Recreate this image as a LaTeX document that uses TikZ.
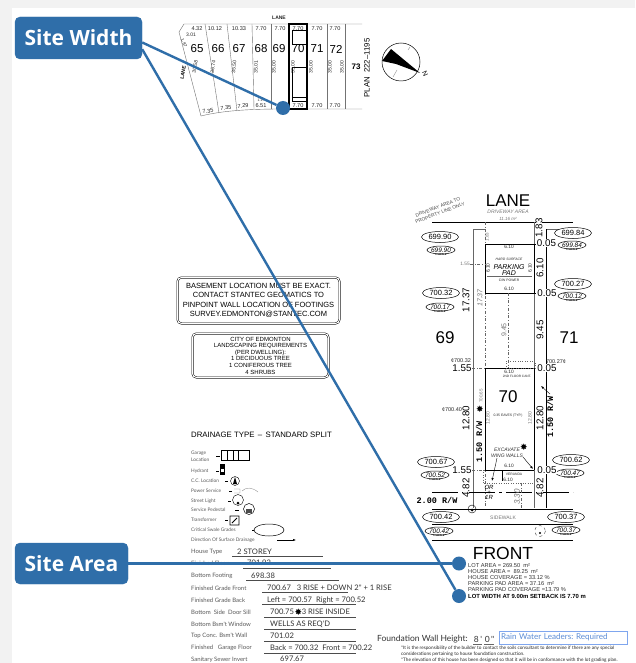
\documentclass[tikz,border=0pt]{standalone}
\usepackage{fontspec}
\setmainfont{Liberation Sans}
\newfontfamily\callfont{Open Sans}
\newfontfamily\tablefont{Lato}
\newfontfamily\starfont{DejaVu Sans}
\setmonofont{Liberation Mono}
\usetikzlibrary{shapes.geometric,arrows.meta}
\definecolor{calloutblue}{HTML}{2F6EA9}
\definecolor{pagegrey}{HTML}{F2F2F2}
\definecolor{leaderblue}{HTML}{7FA6EE}
\definecolor{leadertext}{HTML}{5C8DD6}
\definecolor{dimgrey}{HTML}{777777}
\tikzset{
  sz/.style={font=\fontsize{#1}{#1}\selectfont},
  callout/.style={fill=calloutblue,draw=calloutblue,rounded corners=5pt,text=white,inner sep=0pt,
    font=\callfont\bfseries\fontsize{21}{21}\selectfont},
  calldot/.style={circle,fill=calloutblue,minimum size=14pt,inner sep=0pt},
  leader/.style={draw=calloutblue,line width=2.4pt},
  lotline/.style={draw=black!55,line width=.4pt},
  dimtext/.style={text=dimgrey,inner sep=0pt},
  cadtext/.style={inner sep=0pt,text=black!85},
  bigdim/.style={inner sep=0pt,sz=9.8},
  grade/.style={ellipse,draw,line width=.5pt,minimum width=37pt,minimum height=11pt,inner sep=0pt,sz=7.5},
  gradesmall/.style={ellipse,draw,line width=.5pt,minimum width=28pt,minimum height=8pt,inner sep=0pt,
    font=\itshape\fontsize{6.5}{6.5}\selectfont},
  swale/.style={inner sep=0pt,font=\fontsize{2.6}{3}\selectfont\bfseries},
  roadwidth/.style={inner sep=0pt,font=\ttfamily\bfseries\fontsize{8.5}{8.5}\selectfont},
  signbox/.style={draw,double,double distance=1pt,line width=.5pt,rounded corners=4pt},
  rowlabel/.style={anchor=west,inner sep=0pt,text=black!65,font=\tablefont\fontsize{6}{6}\selectfont},
  rowvalue/.style={anchor=west,inner sep=0pt,text=black!80,font=\tablefont\fontsize{7.6}{8}\selectfont},
  legendlabel/.style={anchor=west,inner sep=0pt,text=black!65,font=\tablefont\fontsize{4.8}{5}\selectfont},
  areatext/.style={anchor=west,inner sep=0pt,font=\fontsize{5.7}{6}\selectfont},
  treestar/.style={inner sep=0pt,font=\starfont\fontsize{9}{9}\selectfont},
}
\begin{document}
\begin{tikzpicture}[x=1pt,y=-1pt]
  \useasboundingbox (0,0) rectangle (635,663);
  \fill [pagegrey] (0,0) rectangle (635,663);
  \fill [white] (12,8) rectangle (635,663);

  % key plan
  \node (keylane) [cadtext,font=\bfseries\fontsize{5}{5}\selectfont] at (279,18) {LANE};
  \draw [lotline] (362,24) -- (184,24) -- (179,32) -- (201,116);
  \draw [lotline] (201,116) .. controls (225,110) and (255,109) .. (283,109) -- (362,109);
  \draw [lotline] (205,24) -- (219,113);
  \draw [lotline] (227,24) -- (237,111);
  \draw [lotline] (252,24) -- (254,109);
  \foreach \x in {271,327,345} \draw [lotline] (\x,24) -- (\x,109);
  \draw [line width=1.1pt] (289,24) rectangle (307,109);
  \draw [line width=.7pt] (292,30) rectangle (307,44);
  \draw [line width=.7pt] (292,67) rectangle (307,97);
  \draw [line width=.5pt] (292,97) -- (292,101) -- (307,101);
  \foreach \x/\t in {197/4.32,215/10.12,239/10.33,261/7.70,280/7.70,298/7.70,317/7.70,335/7.70}
    \node [cadtext,sz=5.6] at (\x,28.5) {\t};
  \foreach \x/\t in {197/65,218/66,239/67,261/68,279/69,298/70,317/71,336/72}
    \node [inner sep=0pt,sz=11.5] at (\x,49) {\t};
  \foreach \x/\t/\r in {195/30.58/80,213/36.74/82,234/35.50/84,256/35.01/88,274/35.00/90,293/35.00/90,311/35.00/90,330/35.00/90,342/35.00/90}
    \node [cadtext,sz=5,rotate=\r] at (\x,67) {\t};
  \foreach \x/\y/\t/\r in {208/111/7.35/10,226/108/7.35/5,243/106/7.29/2,261/105.5/6.51/0,298/105.5/7.70/0,317/105.5/7.70/0,335/105.5/7.70/0}
    \node [cadtext,sz=5.6,rotate=\r] at (\x,\y) {\t};
  \node [cadtext,sz=3.5] at (261,100) {1.17};
  \node [cadtext,sz=5] at (191,34.5) {3.01};
  \node [cadtext,sz=4.5,rotate=-65] at (184,43) {1.87};
  \node [inner sep=0pt,font=\bfseries\fontsize{5}{5}\selectfont,rotate=80] at (183,73) {LANE};
  \node [inner sep=0pt,font=\bfseries\fontsize{8}{8}\selectfont] at (356,67) {73};
  \node [inner sep=0pt,sz=7.8,rotate=90] at (367,68) {PLAN\ \ 222--1195};

  % north arrow
  \draw [line width=.5pt] (401,62) circle (19);
  \fill (382,61) -- (391,49) -- (420,73) -- (396,64) -- cycle;
  \draw [black!50,line width=.3pt] (408,50) -- (410,47) (393,77) -- (397,70);
  \node [inner sep=0pt,sz=7,rotate=-65] at (425,74) {N};

  % signs
  \node (surveysign) [signbox,minimum width=162pt,minimum height=46pt,align=center,inner sep=0pt,
    font=\fontsize{7.5}{9.4}\selectfont] at (258.5,300.5)
    {BASEMENT LOCATION MUST BE EXACT.\\CONTACT STANTEC GEOMATICS TO\\PINPOINT WALL LOCATION OF FOOTINGS\\SURVEY.EDMONTON@STANTEC.COM};
  \node (treesign) [signbox,minimum width=136pt,minimum height=44pt,align=center,inner sep=0pt,
    font=\fontsize{6}{6.6}\selectfont] at (260.5,355.5)
    {CITY OF EDMONTON\\LANDSCAPING REQUIREMENTS\\(PER DWELLING):\\1 DECIDUOUS TREE\\1 CONIFEROUS TREE\\4 SHRUBS};

  % drainage legend
  \node (drainage) [anchor=west,inner sep=0pt,sz=7.8] at (191,435) {DRAINAGE TYPE \,--\, STANDARD SPLIT};
  \node [legendlabel,align=left] at (191,456.5) {Garage\\[1.5pt]Location};
  \foreach \y/\t in {471/Hydrant,481/C.C. Location,491/Power Service,501/Street Light,510/Service Pedestal,520/Transformer,530/Critical Swale Grades,540/Direction Of Surface Drainage}
    \node [legendlabel] at (191,\y) {\t};
  \draw [line width=.7pt] (221,450) rectangle (249,460) (227,450) -- (227,460) (233,450) -- (233,460) (238,450) -- (238,460);
  \draw [line width=.4pt] (216,456) -- (220,456) (216,471) -- (219,471) (225,481) -- (228,481) (229,491) -- (232,491)
    (228,501) -- (231,501) (235,510) -- (239,510) (225,520) -- (228,520) (252,530) -- (254,530);
  \fill (220,464) rectangle (225,475);
  \fill [white] (221,469) rectangle (224,472);
  \draw [line width=.4pt] (235,481) circle (4.5);
  \fill (235,477) -- (233,484) -- (237,484) -- cycle;
  \draw [black!50,line width=.3pt] (234,489) -- (240,489) -- (240,493) -- (234,493) (242,491) .. controls (246,487) and (252,487) .. (258,492);
  \draw [line width=.4pt] (238,500) circle (5.5);
  \fill (238,503) circle (1.5);
  \draw [line width=.5pt] (249,509) circle (5.5);
  \fill [black!70] (246,509) rectangle (252,513);
  \draw [line width=.8pt] (230,516) rectangle (239,525) (232,523) -- (237,518);
  \draw [line width=.5pt] (269,530) ellipse (15 and 6);
  \draw [-{Latex[length=3pt]},line width=.4pt] (277,540) -- (296,540);

  % grade table
  \foreach \y/\t in {552/House Type,563/Finished Floor,576/Bottom Footing,588/Finished Grade Front,600/Finished Grade Back,612/Bottom\ \ Side\ \ Door Sill,624/Bottom Bsm't Window,636/Top Conc. Bsm't Wall,648/Finished\ \ \ Garage Floor,659.5/Sanitary Sewer Invert}
    \node [rowlabel] at (191,\y) {\t};
  \foreach \x/\y/\t in {237/552/2 STOREY,247/563/701.92,251/576/698.38,267/588/{700.67\ \ \ 3 RISE + DOWN 2" + 1 RISE},267/600/{Left = 700.57\ \ Right = 700.52},270/612/{700.75 \ \ \ 3 RISE INSIDE},270/624/WELLS AS REQ'D,270/636/701.02,270/648/{Back = 700.32\ \ Front = 700.22},280/659/697.67}
    \node [rowvalue] at (\x,\y) {\t};
  \foreach \a/\b/\y in {232/323/556,243/331/568,246/339/580,262/348/592,262/356/604,264/356/617,264/356/629,264/356/641,264/356/653}
    \draw [black!70,line width=.5pt] (\a,\y) -- (\b,\y);
  \node (sillstar) [treestar] at (298.5,612) {✸};

  % site plan
  \node (lanetitle) [inner sep=0pt,font=\fontsize{17}{17}\selectfont] at (508,201) {LANE};
  \node [dimtext,font=\itshape\fontsize{5}{5}\selectfont] at (508,212) {DRIVEWAY AREA};
  \node [dimtext,font=\itshape\fontsize{4.5}{5}\selectfont] at (508,218.5) {11.16 m²};
  \node [cadtext,text=black!70,rotate=21,align=center,font=\fontsize{4.8}{6}\selectfont] at (439,210) {DRIVEWAY AREA TO\\PROPERTY LINE ONLY};
  \draw [line width=.5pt] (432,222) -- (573,222);
  \draw [black!60,line width=.4pt] (473,229) -- (485,229) (546,229) -- (573,229);
  \draw [black!60,line width=.4pt] (473,229) -- (473,508);
  \draw [line width=.5pt] (546,229) -- (546,508);
  \draw [black!60,line width=.5pt] (534,222) -- (534,508);
  \draw [black!60,line width=.4pt,dash dot] (485,222) -- (485,508);
  \draw [line width=.9pt] (485,244) rectangle (534,293);
  \draw [line width=.9pt] (485,368) rectangle (534,470);
  \draw [black!60,dotted,line width=.4pt] (506,361) rectangle (535,368);
  \draw [black!60,dotted,line width=.4pt] (483,470) -- (483,483) -- (534,483) -- (534,470);
  \draw [line width=.8pt] (502,470) -- (502,481);
  \draw [black!60,line width=.3pt] (487,276) -- (532,276);
  \draw [black!60,line width=.4pt,dash dot] (508,293) -- (508,368);
  \draw [black!60,line width=.4pt,dash dot] (470,264) -- (485,264) (472,368) -- (485,368) (472,470) -- (485,470);
  \draw [line width=.5pt] (534,293) -- (536,293) (534,244) -- (536,244);
  \draw [line width=.5pt,dash pattern=on 26pt off 4pt on 3pt off 4pt] (432,492) -- (573,492);
  \foreach \y in {509,524,540} \draw [line width=.6pt] (432,\y) -- (573,\y);
  \node [dimtext,sz=5] at (503,518) {SIDEWALK};

  % grades
  \foreach \x/\y/\t in {440/237/699.90,573/233/699.84,441/293/700.32,573/284/700.27,436/462/700.67,571/460/700.62,441/517/700.42,566/517/700.37}
    \node [grade,fill=white] at (\x,\y) {\t};
  \foreach \x/\y/\t in {441/250/699.90,572/245/699.84,440/307/700.17,572/296/700.12,435/475/700.52,570/473/700.47,439/531/700.42,566/530/700.37}
  {
    \node [gradesmall,fill=white] at (\x,\y) {\t};
    \node [swale] at (\x,\y+4.5) {¢ SWALE};
  }

  % dimensions
  \foreach \x/\y/\t in {466/300/17.37,540/268/6.10,540/330/9.45,466/418/12.80,540/418/12.80,466/488/4.82,540/488/4.82,539/228/1.83}
    \node [bigdim,fill=white,rotate=90] at (\x,\y) {\t};
  \foreach \x/\y/\t in {546.5/243/0.05,547/293/0.05,547/368/0.05,547/470/0.05,462/368/1.55,462/470/1.55}
    \node [bigdim,fill=white,inner sep=.5pt] at (\x,\y) {\t};
  \node [dimtext,rotate=90,font=\itshape\fontsize{7}{7}\selectfont] at (480,298) {17.37};
  \node [dimtext,rotate=90,sz=7] at (504,330) {9.45};
  \node [dimtext,rotate=90,sz=4.5] at (487,237) {1.83};
  \node [dimtext,sz=4.8] at (465,264) {1.55};
  \foreach \x/\y in {509/247,509/289,509/372,509/466,508/480}
    \node [cadtext,sz=4.8] at (\x,\y) {6.10};
  \foreach \x in {488,530} {
    \node [cadtext,sz=4.8,rotate=90] at (\x,268) {6.10};
    \node [dimtext,sz=5,rotate=90] at (\x,418) {12.80};
  }
  \node [cadtext,font=\itshape\fontsize{3.4}{4}\selectfont] at (509,259) {HARD SURFACE};
  \node [inner sep=0pt,align=center,font=\itshape\fontsize{7}{6.8}\selectfont] at (509,270) {PARKING\\PAD};
  \node [cadtext,sz=3.4] at (509,280) {C/W POWER};
  \node [cadtext,sz=3.2] at (517,376) {2ND FLOOR CANT.};
  \node [cadtext,sz=3.4] at (508,416) {0.35 EAVES (TYP.)};
  \node [cadtext,sz=3.4] at (514,474) {VERANDA};
  \node [dimtext,rotate=90,sz=4.5] at (481,396) {700.65};
  \node [inner sep=0pt,font=\itshape\fontsize{6}{6}\selectfont,align=center] at (489,492) {OR\\[-1pt]+\\[-1pt]1R};
  \node [dimtext,rotate=90,font=\itshape\fontsize{8}{8}\selectfont] at (517,497) {3.30};
  \draw [black!60,line width=.4pt,dash dot] (521,483) -- (521,509);
  \node [inner sep=0pt,font=\fontsize{17}{17}\selectfont] at (445,338) {69};
  \node [inner sep=0pt,font=\fontsize{17}{17}\selectfont] at (569,338) {71};
  \node [inner sep=0pt,font=\fontsize{17}{17}\selectfont] at (508,397) {70};
  \node [cadtext,sz=5.5] at (461,361) {¢700.32};
  \node [cadtext,sz=5.5] at (556,362) {700.27¢};
  \node [cadtext,sz=5.5] at (452,410) {¢700.40};
  \node [roadwidth,rotate=90] at (479,442) {1.50 R/W};
  \node [roadwidth,rotate=90] at (550,417) {1.50 R/W};
  \node (rowleft) [roadwidth] at (437,500) {2.00 R/W};
  \node (excavate) [inner sep=0pt,align=center,text=black!80,font=\itshape\fontsize{5}{6}\selectfont] at (507,453) {EXCAVATE\\WING WALLS};
  \draw [-{Latex[length=3pt]},line width=.4pt] (523,457) -- (533,469);
  \draw [-{Latex[length=3pt]},line width=.4pt] (497,458) -- (492,481);
  \draw [-{Latex[length=3pt]},line width=.4pt] (550,394) -- (541,386);
  \node (starone) [treestar] at (480,409) {✸};
  \node (startwo) [treestar] at (524,447) {✸};
  \draw [line width=.4pt] (472,509) circle (4);
  \fill (472,510) circle (1.5);
  \draw [black!70,line width=.4pt,dashed] (540,531) circle (5.5);
  \fill (540,533) circle (1.2);

  % areas
  \node (fronttitle) [inner sep=0pt,font=\fontsize{17.5}{18}\selectfont] at (503,553) {FRONT};
  \foreach \y/\t in {565.3/{LOT AREA = 269.50\ \ m²},571.3/{HOUSE AREA =\ \ 89.25\ \ m²},577.7/{HOUSE COVERAGE = 33.12 \%},583.7/{PARKING PAD AREA = 37.16\ \ m²},590/{PARKING PAD COVERAGE =13.79 \%}}
    \node [areatext,text=black!80] at (468,\y) {\t};
  \node [areatext,font=\bfseries\fontsize{5.9}{6}\selectfont] at (468,596) {LOT WIDTH AT 9.00m SETBACK IS 7.70 m};

  % foundation notes
  \node (foundation) [anchor=west,inner sep=0pt,font=\tablefont\fontsize{8.5}{9}\selectfont,text=black!80] at (377,639) {Foundation Wall Height:};
  \node [inner sep=0pt,font=\tablefont\fontsize{8.5}{9}\selectfont,text=black!80] at (478,639) {8\,'};
  \node [inner sep=0pt,font=\tablefont\fontsize{8.5}{9}\selectfont,text=black!80] at (489.5,639) {0\,"};
  \draw [black!60,line width=.4pt] (473,644) -- (482,644) (484,644) -- (494,644);
  \node (rainwater) [draw=leaderblue,line width=.6pt,text=leadertext,minimum width=128pt,minimum height=13pt,inner sep=2pt,text width=124pt,
    font=\tablefont\fontsize{8.1}{9}\selectfont] at (563,637.5) {Rain Water Leaders:\ Required};
  \foreach \y/\t in {648/{*It is the responsibility of the builder to contact the soils consultant to determine if there are any special},654/{considerations pertaining to house foundation construction.},660/{*The elevation of this house has been designed so that it will be in conformance with the lot grading plan.}}
    \node [anchor=west,inner sep=0pt,text=black!85,font=\tablefont\fontsize{4.7}{5}\selectfont] at (401,\y) {\t};

  % callouts
  \node (sitewidth) [callout,minimum width=127pt,minimum height=42pt] at (78.5,38) {Site Width};
  \node (sitearea) [callout,minimum width=113pt,minimum height=41pt] at (71.5,563.5) {Site Area};
  \node (widthdot) [calldot] at (283,108) {};
  \node (lotdot) [calldot] at (459,596) {};
  \node (areadot) [calldot] at (459,563.5) {};
  \draw [leader] (sitewidth.-4.5) -- (widthdot);
  \draw [leader] (sitewidth.-10.7) -- (lotdot);
  \draw [leader] (sitearea) -- (areadot);
\end{tikzpicture}
\end{document}
